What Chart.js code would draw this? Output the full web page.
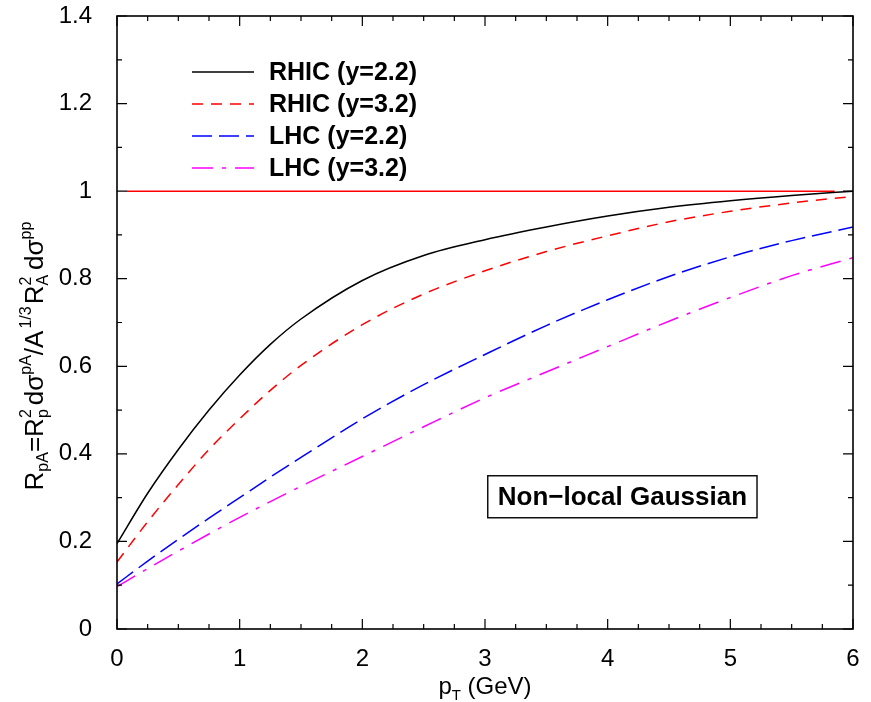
<!DOCTYPE html>
<html>
<head>
<meta charset="utf-8">
<script src="https://cdn.jsdelivr.net/npm/chart.js@4.4.1/dist/chart.umd.min.js"></script>
<style>
  html, body { margin: 0; padding: 0; background: #fff; }
  canvas { display: block; }
</style>
</head>
<body>
<canvas id="chart" width="871" height="702"></canvas>
<script>
// values
const pT = [0, 0.25, 0.5, 0.75, 1, 1.25, 1.5, 2, 2.5, 3, 3.5, 4, 4.5, 5, 5.5, 6];
const rhic22 = [0.195, 0.31, 0.41, 0.5, 0.58, 0.65, 0.708, 0.796, 0.853, 0.889, 0.918, 0.943, 0.963, 0.978, 0.99, 1.0];
const rhic32 = [0.153, 0.245, 0.33, 0.41, 0.48, 0.545, 0.602, 0.695, 0.765, 0.818, 0.862, 0.898, 0.93, 0.954, 0.973, 0.988];
const lhc22 = [0.103, 0.155, 0.205, 0.253, 0.3, 0.347, 0.392, 0.48, 0.558, 0.627, 0.693, 0.752, 0.805, 0.85, 0.887, 0.918];
const lhc32 = [0.097, 0.138, 0.178, 0.217, 0.255, 0.291, 0.326, 0.394, 0.462, 0.528, 0.587, 0.645, 0.703, 0.757, 0.807, 0.848];
const refX = [0.08, 5.85];
const refY = [1, 1];
const seriesLabels = ['RHIC (y=2.2)', 'RHIC (y=3.2)', 'LHC (y=2.2)', 'LHC (y=3.2)'];
const boxLabel = 'Non\u2212local Gaussian';

Chart.defaults.font.family = '"Liberation Sans", Arial, Helvetica, sans-serif';
Chart.defaults.color = '#000';

const toPoints = (xs, ys) => xs.map((x, i) => ({ x, y: ys[i] }));

// draws a run of text pieces, some as sub/superscripts
const drawRich = (ctx, parts, x, y, align) => {
  const width = p => {
    if (p.stack) return Math.max(...p.stack.map(width)) + (p.gap || 0);
    ctx.font = `${p.size}px ${Chart.defaults.font.family}`;
    return ctx.measureText(p.t).width + (p.gap || 0);
  };
  const total = parts.reduce((s, p) => s + width(p), 0);
  let cx = align === 'center' ? x - total / 2 : x;
  const put = p => {
    ctx.font = `${p.size}px ${Chart.defaults.font.family}`;
    ctx.fillText(p.t, cx, y + (p.dy || 0));
  };
  for (const p of parts) {
    if (p.stack) p.stack.forEach(put);
    else put(p);
    cx += width(p);
  }
};

const framePlugin = {
  id: 'frame',
  afterDraw: chart => {
    const { ctx, chartArea: a, scales: { x, y } } = chart;
    ctx.save();
    ctx.strokeStyle = '#000';
    ctx.lineWidth = 1.2;
    ctx.beginPath();
    for (let v = 0; v <= 6.001; v += 0.25) {
      const px = x.getPixelForValue(v);
      const len = Math.abs(v - Math.round(v)) < 1e-6 ? 10 : 5;
      ctx.moveTo(px, a.bottom); ctx.lineTo(px, a.bottom - len);
      ctx.moveTo(px, a.top); ctx.lineTo(px, a.top + len);
    }
    for (let i = 0; i <= 14; i++) {
      const py = y.getPixelForValue(i / 10);
      const len = i % 2 === 0 ? 10 : 5;
      ctx.moveTo(a.left, py); ctx.lineTo(a.left + len, py);
      ctx.moveTo(a.right, py); ctx.lineTo(a.right - len, py);
    }
    ctx.stroke();
    ctx.lineWidth = 1.6;
    ctx.strokeRect(a.left, a.top, a.right - a.left, a.bottom - a.top);

    // legend
    ctx.textBaseline = 'middle';
    ctx.fillStyle = '#000';
    chart.data.datasets.slice(0, 4).forEach((ds, i) => {
      const ly = a.top + 56 + i * 32;
      ctx.strokeStyle = ds.borderColor;
      ctx.lineWidth = ds.borderWidth;
      ctx.setLineDash(ds.borderDash || []);
      ctx.beginPath();
      ctx.moveTo(a.left + 75, ly);
      ctx.lineTo(a.left + 137, ly);
      ctx.stroke();
      ctx.setLineDash([]);
      ctx.font = `bold 25px ${Chart.defaults.font.family}`;
      ctx.fillText(ds.label, a.left + 152, ly + 1);
    });

    // label box
    const bx = x.getPixelForValue(4.12);
    const by = y.getPixelForValue(0.302);
    ctx.font = `bold 26px ${Chart.defaults.font.family}`;
    const tw = ctx.measureText(boxLabel).width;
    ctx.lineWidth = 1.4;
    ctx.strokeStyle = '#000';
    ctx.strokeRect(bx - tw / 2 - 10, by - 21, tw + 20, 42);
    ctx.textAlign = 'center';
    ctx.fillText(boxLabel, bx, by + 1);

    // axis titles
    ctx.textAlign = 'left';
    ctx.textBaseline = 'alphabetic';
    drawRich(ctx, [
      { t: 'p', size: 24 },
      { t: 'T', size: 15, dy: 6 },
      { t: ' (GeV)', size: 24 },
    ], (a.left + a.right) / 2, 694, 'center');

    ctx.translate(43, 356);
    ctx.rotate(-Math.PI / 2);
    drawRich(ctx, [
      { t: 'R', size: 26 },
      { t: 'pA', size: 16, dy: 5 },
      { t: '=R', size: 26 },
      { stack: [{ t: 'p', size: 16, dy: 5 }, { t: '2', size: 16, dy: -12 }], gap: 4 },
      { t: 'd\u03c3', size: 26 },
      { t: 'pA', size: 16, dy: -12 },
      { t: '/A', size: 26, gap: 2 },
      { t: '1/3', size: 16, dy: -12, gap: 2 },
      { t: 'R', size: 26 },
      { stack: [{ t: 'A', size: 16, dy: 5 }, { t: '2', size: 16, dy: -12 }], gap: 5 },
      { t: 'd\u03c3', size: 26 },
      { t: 'pp', size: 16, dy: -12 },
    ], 0, 0, 'center');
    ctx.restore();
  },
};

const line = (label, data, color, dash) => ({
  label,
  data,
  borderColor: color,
  borderWidth: 1.5,
  borderDash: dash,
  pointRadius: 0,
  fill: false,
  tension: 0.4,
  cubicInterpolationMode: 'monotone',
});

new Chart(document.getElementById('chart'), {
  type: 'line',
  data: {
    datasets: [
      line(seriesLabels[0], toPoints(pT, rhic22), '#000000', []),
      line(seriesLabels[1], toPoints(pT, rhic32), '#ff0000', [11, 8]),
      line(seriesLabels[2], toPoints(pT, lhc22), '#0000ff', [20, 7]),
      line(seriesLabels[3], toPoints(pT, lhc32), '#ff00ff', [21, 9, 4, 9]),
      line('ref', toPoints(refX, refY), '#ff0000', []),
    ],
  },
  options: {
    responsive: false,
    animation: false,
    layout: { padding: { top: 16, right: 18, left: 0, bottom: 0 } },
    scales: {
      x: {
        type: 'linear',
        min: 0,
        max: 6,
        grid: { display: false },
        border: { display: false },
        ticks: { stepSize: 1, padding: 8, font: { size: 24 }, color: '#000', maxRotation: 0 },
        afterFit: s => { s.height = 73; s.paddingLeft = 0; s.paddingRight = 0; },
      },
      y: {
        min: 0,
        max: 1.4,
        grid: { display: false },
        border: { display: false },
        ticks: {
          stepSize: 0.2,
          padding: 17,
          font: { size: 24 },
          color: '#000',
          callback: v => String(+v.toFixed(1)),
        },
        afterFit: s => { s.width = 117; s.paddingTop = 0; s.paddingBottom = 0; },
      },
    },
    plugins: {
      legend: { display: false },
      tooltip: { enabled: false },
    },
  },
  plugins: [framePlugin],
});
</script>
</body>
</html>
